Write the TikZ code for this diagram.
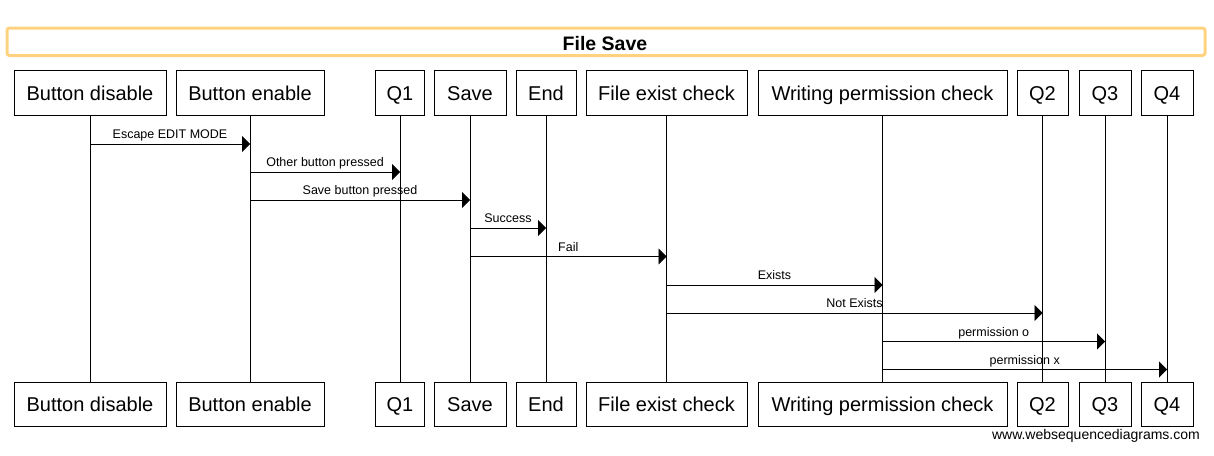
\documentclass[tikz,border=0pt]{standalone}
\usepackage{fontspec}
\setmainfont{Liberation Sans}
\usetikzlibrary{arrows.meta}
\definecolor{titleorange}{RGB}{255,210,128}
\begin{document}
\begin{tikzpicture}[x=1pt,y=-1pt,
  part/.style={draw, line width=0.9pt, minimum height=44.5pt, inner sep=0pt,
    text height=14.3pt, text depth=0pt, font=\fontsize{20}{24}\selectfont},
  life/.style={line width=0.9pt},
  msg/.style={line width=0.9pt, -{Triangle[length=8pt,width=16pt]}},
  lbl/.style={anchor=base, yshift=5.5pt, inner sep=0pt, font=\fontsize{12.5}{15}\selectfont},
  titlebox/.style={draw=titleorange, line width=3pt, rounded corners=2.5pt}]
\useasboundingbox (0,0) rectangle (1214,455);

% title
\draw[titlebox] (7,28) rectangle (1205,55.5);
\node[inner sep=0pt, text height=14pt, text depth=0pt, font=\fontsize{19.5}{23}\selectfont\bfseries] (title) at (605,43) {File Save};

% participants top
\node[part, minimum width=152pt] (bdT) at (90,92.85) {Button disable};
\node[part, minimum width=148pt] (beT) at (250,92.85) {Button enable};
\node[part, minimum width=49pt]  (q1T) at (400,92.85) {Q1};
\node[part, minimum width=72pt]  (svT) at (470,92.85) {Save};
\node[part, minimum width=60pt]  (enT) at (546,92.85) {End};
\node[part, minimum width=161pt] (feT) at (666.5,92.85) {File exist check};
\node[part, minimum width=249pt] (wpT) at (882.5,92.85) {Writing permission check};
\node[part, minimum width=51pt]  (q2T) at (1042.5,92.85) {Q2};
\node[part, minimum width=52pt]  (q3T) at (1105,92.85) {Q3};
\node[part, minimum width=52pt]  (q4T) at (1167,92.85) {Q4};

% participants bottom
\node[part, minimum width=152pt] (bdB) at (90,404.5) {Button disable};
\node[part, minimum width=148pt] (beB) at (250,404.5) {Button enable};
\node[part, minimum width=49pt]  (q1B) at (400,404.5) {Q1};
\node[part, minimum width=72pt]  (svB) at (470,404.5) {Save};
\node[part, minimum width=60pt]  (enB) at (546,404.5) {End};
\node[part, minimum width=161pt] (feB) at (666.5,404.5) {File exist check};
\node[part, minimum width=249pt] (wpB) at (882.5,404.5) {Writing permission check};
\node[part, minimum width=51pt]  (q2B) at (1042.5,404.5) {Q2};
\node[part, minimum width=52pt]  (q3B) at (1105,404.5) {Q3};
\node[part, minimum width=52pt]  (q4B) at (1167,404.5) {Q4};

% lifelines
\foreach \p in {bd,be,q1,sv,en,fe,wp,q2,q3,q4}
  \draw[life] (\p T.south) -- (\p B.north);

% messages
\draw[msg] (bdT.south |- 0,144) -- node[lbl]{Escape EDIT MODE} (beT.south |- 0,144);
\draw[msg] (beT.south |- 0,172) -- node[lbl]{Other button pressed} (q1T.south |- 0,172);
\draw[msg] (beT.south |- 0,200) -- node[lbl]{Save button pressed} (svT.south |- 0,200);
\draw[msg] (svT.south |- 0,228) -- node[lbl]{Success} (enT.south |- 0,228);
\draw[msg] (svT.south |- 0,256.5) -- node[lbl]{Fail} (feT.south |- 0,256.5);
\draw[msg] (feT.south |- 0,285) -- node[lbl]{Exists} (wpT.south |- 0,285);
\draw[msg] (feT.south |- 0,313) -- node[lbl]{Not Exists} (q2T.south |- 0,313);
\draw[msg] (wpT.south |- 0,341.5) -- node[lbl]{permission o} (q3T.south |- 0,341.5);
\draw[msg] (wpT.south |- 0,369.5) -- node[lbl]{permission x} (q4T.south |- 0,369.5);

% footer
\node[anchor=base east, inner sep=0pt, font=\fontsize{14}{16}\selectfont] (foot) at (1200,439) {www.websequencediagrams.com};
\end{tikzpicture}
\end{document}
